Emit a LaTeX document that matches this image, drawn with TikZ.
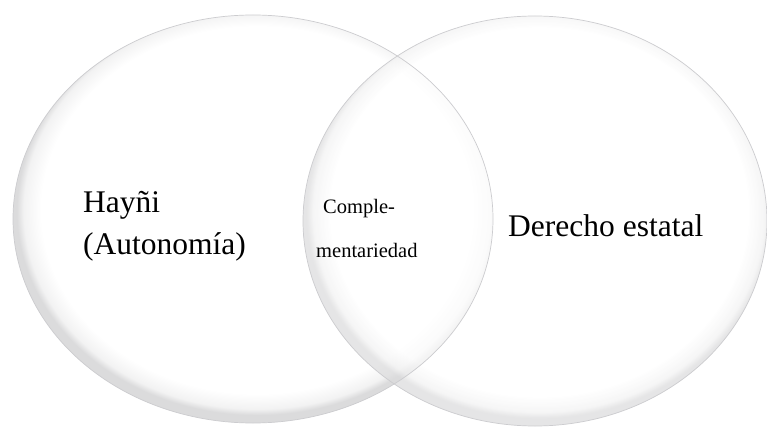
\documentclass[tikz,border=0pt]{standalone}
\usepackage{fontspec}
\setmainfont{Liberation Serif}
\pgfdeclareradialshading{glass}{\pgfpoint{0.8bp}{2bp}}{color(0bp)=(white); color(22.5bp)=(white); color(24.3bp)=(blue!2!black!5); color(25bp)=(blue!3!black!14); color(50bp)=(blue!3!black!14)}
\tikzset{
  rim/.style={draw=blue!5!black!20, line width=0.7pt},
  big/.style={anchor=base west, inner sep=0pt, font=\fontsize{31.5}{37}\selectfont},
  small/.style={anchor=base west, inner sep=0pt, font=\fontsize{20.5}{25}\selectfont}
}
\begin{document}
\begin{tikzpicture}[x=1pt,y=-1pt]
\useasboundingbox (0,0) rectangle (767,430);
\fill[white] (0,0) rectangle (767,430);
\shade [shading=glass] (253,219) ellipse [x radius=240, y radius=204];
\shade [shading=glass, opacity=0.7] (535,221) ellipse [x radius=232, y radius=205];
\draw [rim] (253,219) ellipse [x radius=240, y radius=204];
\draw [rim] (535,221) ellipse [x radius=232, y radius=205];

\node[big] (hayni) at (83,212) {Hayñi};
\node[big] (autonomia) at (83,254) {(Autonomía)};
\node[small] (comple) at (323,213) {Comple-};
\node[small] (mentar) at (316,257) {mentariedad};
\node[big] (estatal) at (508,236) {Derecho estatal};
\end{tikzpicture}
\end{document}
